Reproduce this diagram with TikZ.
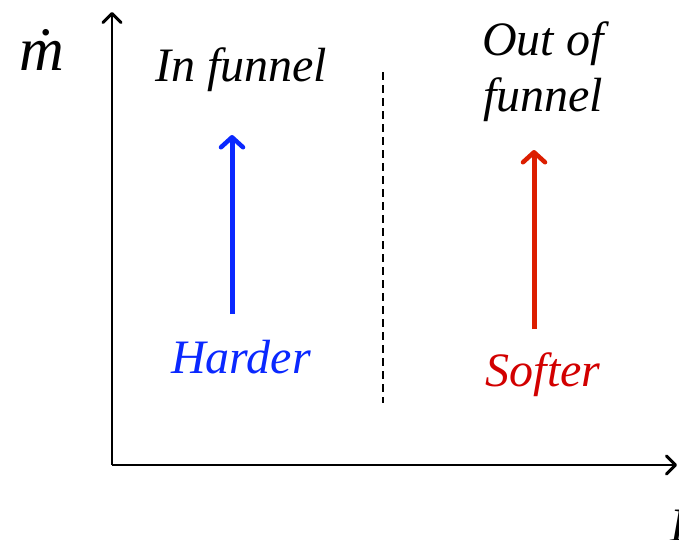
\documentclass[tikz,border=0pt]{standalone}
\usepackage{fontspec}
\setmainfont{Liberation Serif}
\usetikzlibrary{arrows.meta}
\definecolor{hardblue}{RGB}{10,40,255}
\definecolor{softred}{RGB}{220,30,0}
\definecolor{softtext}{RGB}{210,0,0}
\tikzset{
  axis/.style={line width=1.8pt,-{Straight Barb[length=9pt,width=18pt,line width=3pt,round]}},
  trend/.style={line width=5pt,-{Straight Barb[length=10pt,width=22pt,line width=4.5pt,round]}},
  lbl/.style={font=\fontsize{48}{56}\selectfont\itshape,align=center,inner sep=0pt},
}
\begin{document}
\begin{tikzpicture}[x=1pt,y=-1pt]
\useasboundingbox (0,0) rectangle (679,539);
% axes
\coordinate (o) at (112,465);
\coordinate (ytop) at (112,12);
\coordinate (xend) at (677,465);
\draw[axis] (o) -- (ytop);
\draw[axis] (o) -- (xend);
\node[font=\fontsize{62}{62}\selectfont\itshape,inner sep=0pt] (mdot) at (42,50) {\.{m}};
\node[lbl,anchor=west] (lum) at (670,526) {L};
% divider
\coordinate (dtop) at (383,72);
\coordinate (dbot) at (383,403);
\draw[line width=1.3pt,dash pattern=on 8pt off 5pt] (dtop) -- (dbot);
% region titles
\node[lbl] (infun) at (241,70) {In funnel};
\node[lbl] (outfun) at (543,72) {Out of\\funnel};
% trend arrows
\coordinate (bbot) at (232,314);
\coordinate (btop) at (232,135);
\draw[trend,hardblue] (bbot) -- (btop);
\coordinate (rbot) at (534,329);
\coordinate (rtop) at (534,150);
\draw[trend,softred] (rbot) -- (rtop);
\node[lbl,text=hardblue] (hard) at (241,357) {Harder};
\node[lbl,text=softtext] (soft) at (543,375) {Softer};
\end{tikzpicture}
\end{document}
